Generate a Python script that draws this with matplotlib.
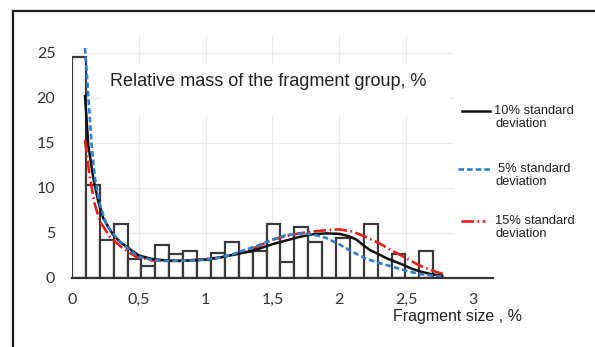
import numpy as np
import matplotlib
matplotlib.use("Agg")
import matplotlib.pyplot as plt
from matplotlib.lines import Line2D
from matplotlib.patches import Rectangle

plt.rcParams['lines.scale_dashes'] = False

# ---- data ----
bin_width = 0.104
bar_heights = [24.5, 10.3, 4.2, 6.0, 2.1, 1.3, 3.6, 2.6, 2.95, 1.9, 2.7, 3.9, 2.8,
               3.0, 5.9, 1.7, 5.6, 4.0, 0.0, 4.4, 0.0, 5.9, 0.0, 2.6, 0.0, 2.95]

black_x = [0.097, 0.122, 0.16, 0.197, 0.234, 0.28, 0.31, 0.36, 0.41, 0.50, 0.6, 0.7, 0.8, 0.9,
           1.0, 1.1, 1.2, 1.3, 1.4, 1.5, 1.6, 1.7, 1.8, 1.9, 2.0, 2.07, 2.13, 2.18, 2.23,
           2.3, 2.36, 2.42, 2.48, 2.54, 2.60, 2.68, 2.78]
black_y = [20.3, 14.7, 11.0, 8.4, 6.6, 5.4, 4.7, 3.95, 3.4, 2.45, 2.05, 1.9, 1.85, 1.9,
           2.0, 2.2, 2.5, 2.8, 3.2, 3.7, 4.1, 4.5, 4.8, 4.9, 4.85, 4.6, 4.2, 3.6, 3.05,
           2.55, 2.1, 1.75, 1.4, 1.0, 0.7, 0.4, 0.17]

blue_x = [0.097, 0.122, 0.147, 0.172, 0.21, 0.26, 0.335, 0.43, 0.50, 0.6, 0.7, 0.8, 0.9,
          1.0, 1.1, 1.2, 1.3, 1.4, 1.5, 1.6, 1.7, 1.8, 1.9, 2.0, 2.1, 2.2, 2.3, 2.4,
          2.5, 2.6, 2.7, 2.78]
blue_y = [25.5, 20.3, 14.7, 11.0, 8.05, 5.8, 4.35, 3.05, 2.3, 1.95, 1.85, 1.85, 1.9,
          2.0, 2.2, 2.55, 3.1, 3.6, 4.2, 4.7, 4.9, 4.8, 4.4, 3.7, 2.85, 2.1, 1.6, 1.2,
          0.75, 0.4, 0.2, 0.1]

red_x = [0.097, 0.135, 0.172, 0.21, 0.284, 0.384, 0.48, 0.6, 0.7, 0.8, 0.9, 1.0, 1.1,
         1.2, 1.3, 1.4, 1.5, 1.6, 1.7, 1.8, 1.9, 2.0, 2.1, 2.2, 2.3, 2.4, 2.5, 2.6,
         2.7, 2.8]
red_y = [15.3, 11.0, 8.05, 6.2, 4.5, 3.2, 2.3, 1.9, 1.85, 1.85, 1.95, 2.05, 2.2,
         2.5, 2.9, 3.5, 4.2, 4.6, 4.9, 5.1, 5.25, 5.35, 5.1, 4.5, 3.8, 2.95, 2.15, 1.35,
         0.75, 0.28]

x_ticks = [0, 0.5, 1, 1.5, 2, 2.5, 3]
x_ticklabels = ["0", "0,5", "1", "1,5", "2", "2,5", "3"]
y_ticks = [0, 5, 10, 15, 20, 25]
y_ticklabels = ["0", "5", "10", "15", "20", "25"]

title = "Relative mass of the fragment group, %"
xlabel = "Fragment size , %"
legend_labels = [("10% standard", "deviation"),
                 ("5% standard", "deviation"),
                 ("15% standard", "deviation")]

# ---- figure ----
W, H = 595, 347
fig = plt.figure(figsize=(W / 100, H / 100), dpi=100)

def fx(px):
    return px / W

def fy(py):
    return 1 - py / H

x0_px, unit_px = 72, 133.6
y0_px, yunit_px = 277.5, 9.0
xmax, ymax = 3.15, 27
ax = fig.add_axes([fx(x0_px), fy(y0_px), xmax * unit_px / W, ymax * yunit_px / H])
ax.set_xlim(0, xmax)
ax.set_ylim(0, ymax)

grid_c = "#ebebeb"
ax.vlines([0.5, 1, 1.5, 2, 2.5], 0, 27, colors=grid_c, lw=0.9, zorder=0.5)
ax.hlines([5, 10, 15, 20, 25], 0, 2.85, colors=grid_c, lw=0.9, zorder=0.5)

# white box behind the title
ax.add_patch(Rectangle((fx(100), fy(115)), 350 / W, 50 / H, transform=fig.transFigure,
                       facecolor="white", edgecolor="none", zorder=1))

lefts = np.arange(len(bar_heights)) * bin_width
ax.bar(lefts, bar_heights, width=bin_width, align="edge", facecolor="white",
       edgecolor="#3a3a3a", linewidth=1.6, zorder=2)

ax.plot(black_x, black_y, color="#111111", lw=1.8, zorder=4, solid_capstyle="butt")
ax.plot(blue_x, blue_y, color="#2f7fcf", lw=1.9, linestyle=(0, (4.0, 2.2)), zorder=5)
ax.plot(red_x, red_y, color="#e3201c", lw=1.9, linestyle=(0, (9.0, 2.5, 1.2, 2.5)), zorder=3)

for s in ["top", "right", "left"]:
    ax.spines[s].set_visible(False)
ax.spines["bottom"].set_color("#333333")
ax.spines["bottom"].set_linewidth(1.6)
ax.spines["bottom"].set_zorder(6)

tick_font = dict(family="Lato", size=11.5, color="#333333")
ax.set_xticks(x_ticks)
ax.set_xticklabels(x_ticklabels, fontdict=tick_font)
ax.set_yticks(y_ticks)
ax.set_yticklabels(y_ticklabels, fontdict=tick_font)
ax.tick_params(axis="x", length=0, pad=11)
ax.tick_params(axis="y", length=0, pad=12)

fig.text(fx(110), fy(82), title, family="Liberation Sans", size=13,
         color="#222222", va="center", ha="left")
fig.text(fx(393), fy(316), xlabel, family="Liberation Sans", size=11.5,
         color="#222222", va="center", ha="left")

# legend (drawn manually so the key aligns with the first text line)
leg_styles = [dict(color="#111111", lw=1.8, ls="-"),
              dict(color="#2f7fcf", lw=1.9, ls=(0, (4.0, 2.2))),
              dict(color="#e3201c", lw=1.9, ls=(0, (9.0, 2.5, 1.2, 2.5)))]
leg_rows = [111, 169, 221]
leg_line_x = [(462, 490), (458, 490), (461, 485)]
leg_text_x = [494, 498, 495]
for style, row, (lx0, lx1), tx, (l1, l2) in zip(leg_styles, leg_rows, leg_line_x,
                                                leg_text_x, legend_labels):
    fig.add_artist(Line2D([fx(lx0), fx(lx1)], [fy(row), fy(row)], transform=fig.transFigure,
                          color=style["color"], lw=style["lw"], linestyle=style["ls"]))
    fig.text(fx(tx), fy(row), l1, family="Liberation Sans", size=9.3, color="#222222",
             va="center", ha="left")
    fig.text(fx(495), fy(row + 13), l2, family="Liberation Sans", size=9.3,
             color="#222222", va="center", ha="left")

# outer frame (top and left edges visible)
fig.add_artist(Line2D([fx(12.7), 1.0], [fy(11), fy(11)], transform=fig.transFigure,
                      color="#1a1a1a", lw=1.6))
fig.add_artist(Line2D([fx(12.7), fx(12.7)], [0.0, fy(11)], transform=fig.transFigure,
                      color="#1a1a1a", lw=1.6))

fig.savefig("out.png", dpi=100, facecolor="white")
